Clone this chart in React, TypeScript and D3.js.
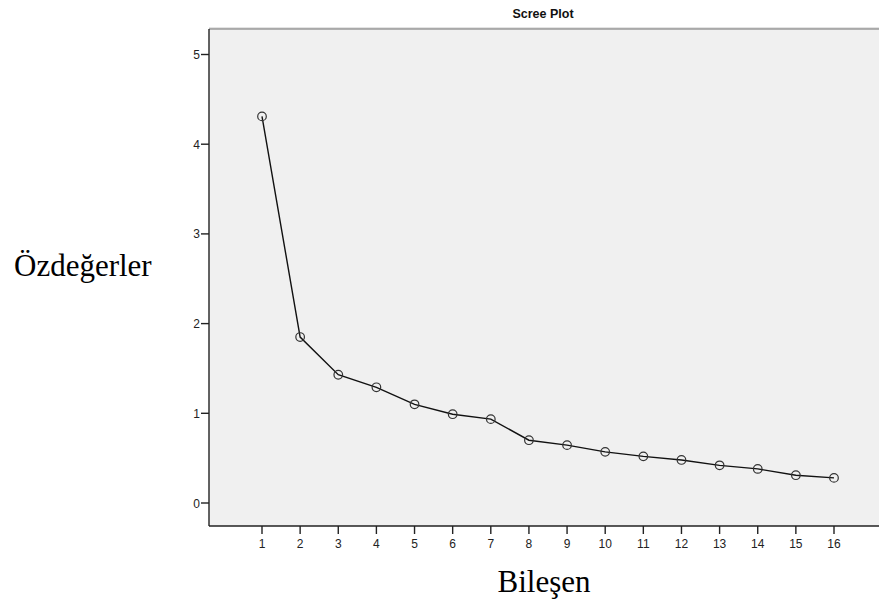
import React from "react";
import * as d3 from "d3";

// Scree plot eigenvalues per component
const components = [1, 2, 3, 4, 5, 6, 7, 8, 9, 10, 11, 12, 13, 14, 15, 16];
const eigenvalues = [4.31, 1.85, 1.43, 1.29, 1.1, 0.99, 0.935, 0.7, 0.645, 0.57, 0.52, 0.48, 0.42, 0.38, 0.31, 0.28];
const yTicks = [0, 1, 2, 3, 4, 5];

const W = 879;
const H = 602;
const PLOT = { left: 209, top: 29, right: 900, bottom: 526 };

export default function App() {
  const x = d3.scaleLinear().domain([1, 16]).range([262, 834]);
  const y = d3.scaleLinear().domain([0, 5]).range([503, 54.5]);

  const line = d3
    .line<number>()
    .x((_, i) => x(components[i]))
    .y((d) => y(d));

  return (
    <svg width={W} height={H} style={{ position: "absolute", left: 0, top: 0 }}>
      <rect x={0} y={0} width={W} height={H} fill="#fff" />
      {/* plot area */}
      <rect
        x={PLOT.left}
        y={PLOT.top}
        width={PLOT.right - PLOT.left}
        height={PLOT.bottom - PLOT.top}
        fill="#f0f0f0"
      />
      <line x1={PLOT.left} x2={W} y1={PLOT.top - 1} y2={PLOT.top - 1} stroke="#c8c8c8" strokeWidth={1} />
      <line x1={PLOT.left} x2={W} y1={PLOT.top} y2={PLOT.top} stroke="#707070" strokeWidth={1.2} />
      <line x1={PLOT.left} x2={PLOT.left} y1={PLOT.top} y2={PLOT.bottom} stroke="#222" strokeWidth={1.4} />
      <line x1={PLOT.left} x2={W} y1={PLOT.bottom} y2={PLOT.bottom} stroke="#222" strokeWidth={1.4} />

      {/* title */}
      <text
        x={543}
        y={18}
        textAnchor="middle"
        fontFamily="Liberation Sans, Arial, sans-serif"
        fontWeight="bold"
        fontSize={12.5}
        fill="#111"
      >
        Scree Plot
      </text>

      {/* y axis */}
      {yTicks.map((t) => (
        <g key={t}>
          <line x1={PLOT.left - 8} x2={PLOT.left} y1={y(t)} y2={y(t)} stroke="#222" strokeWidth={1.4} />
          <text
            x={PLOT.left - 9}
            y={y(t) + 4.5}
            textAnchor="end"
            fontFamily="Liberation Sans, Arial, sans-serif"
            fontSize={12}
            fill="#222"
          >
            {t}
          </text>
        </g>
      ))}

      {/* x axis */}
      {components.map((c) => (
        <g key={c}>
          <line x1={x(c)} x2={x(c)} y1={PLOT.bottom} y2={PLOT.bottom + 8} stroke="#222" strokeWidth={1.4} />
          <text
            x={x(c)}
            y={548}
            textAnchor="middle"
            fontFamily="Liberation Sans, Arial, sans-serif"
            fontSize={12}
            fill="#222"
          >
            {c}
          </text>
        </g>
      ))}

      {/* series */}
      <path d={line(eigenvalues) ?? ""} fill="none" stroke="#111" strokeWidth={1.4} />
      {eigenvalues.map((v, i) => (
        <circle
          key={i}
          cx={x(components[i])}
          cy={y(v)}
          r={4.3}
          fill="none"
          stroke="#333"
          strokeWidth={1.2}
        />
      ))}

      {/* axis titles */}
      <text x={14} y={276} fontFamily="Liberation Serif, Times New Roman, serif" fontSize={31} fill="#000">
        Özdeğerler
      </text>
      <text x={544} y={592} textAnchor="middle" fontFamily="Liberation Serif, Times New Roman, serif" fontSize={31} fill="#000">
        Bileşen
      </text>
    </svg>
  );
}
